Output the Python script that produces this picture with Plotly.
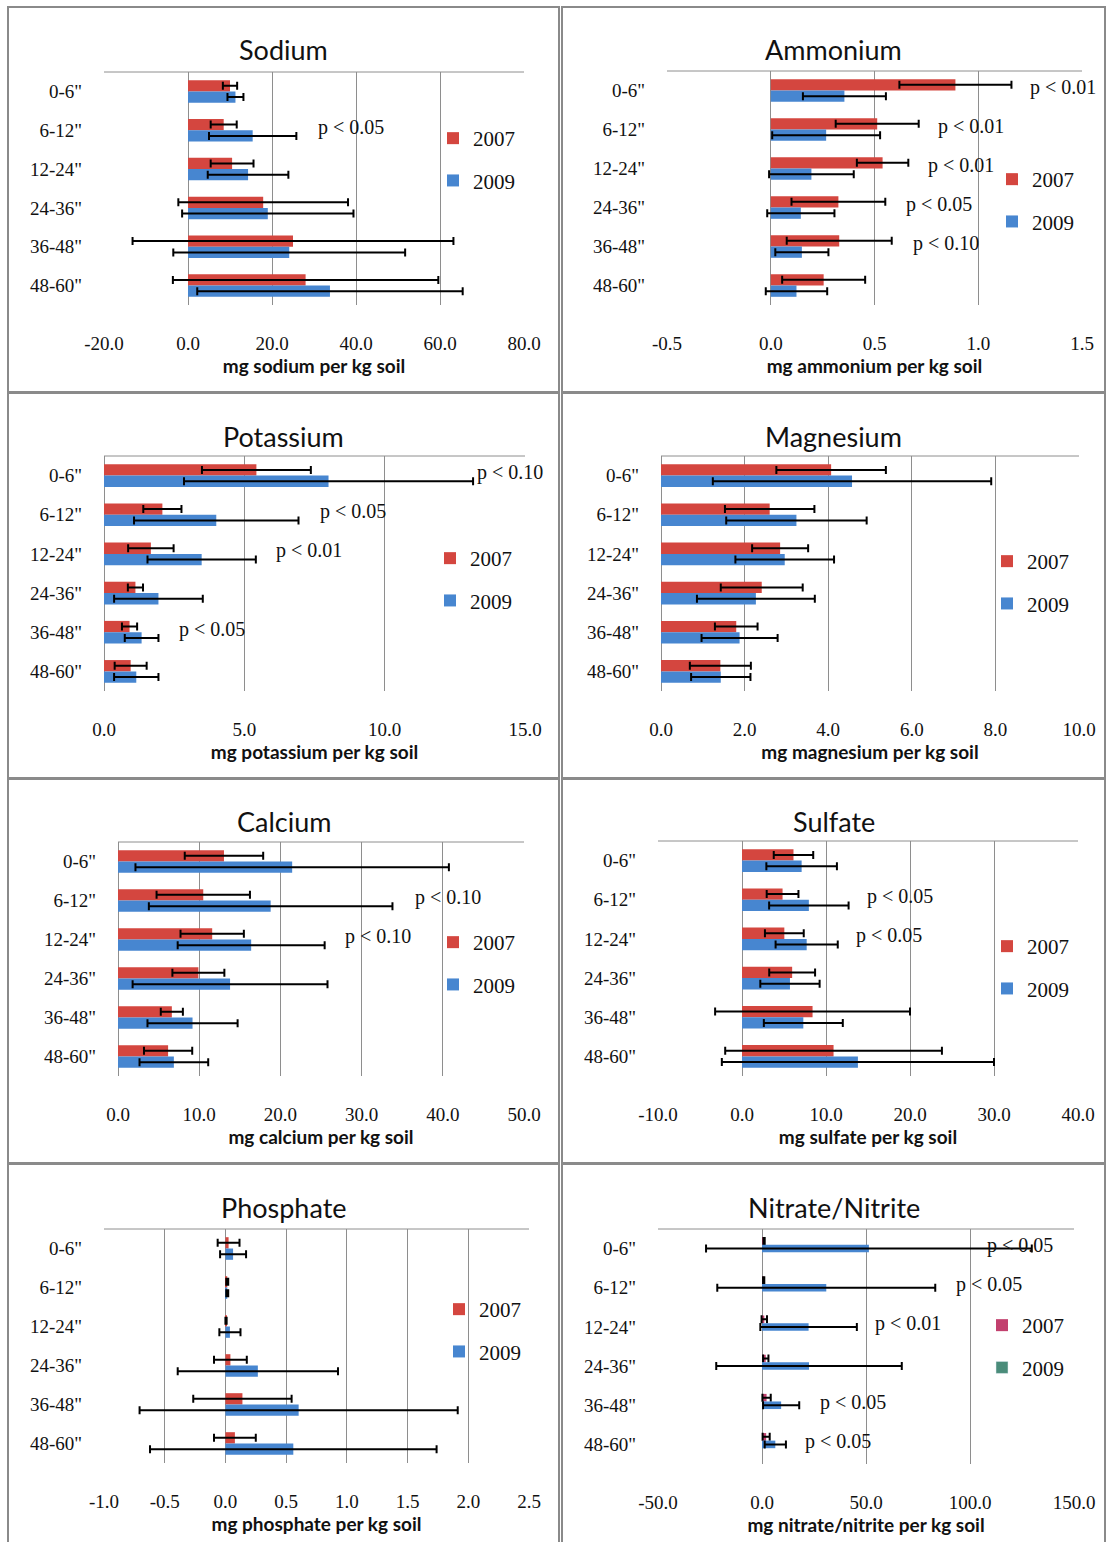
import plotly.graph_objects as go

# ---------------------------------------------------------------- data
depths = ['0-6"', '6-12"', '12-24"', '24-36"', '36-48"', '48-60"']

sodium_2007 = [10.0, 8.5, 10.5, 17.9, 25.0, 28.0]
sodium_2007_err = [1.7, 3.1, 5.1, 20.2, 38.2, 31.6]
sodium_2009 = [11.3, 15.4, 14.3, 19.0, 24.1, 33.8]
sodium_2009_err = [1.9, 10.4, 9.6, 20.4, 27.6, 31.6]
sodium_p = [('6-12"', 'p < 0.05')]

ammonium_2007 = [0.89, 0.513, 0.539, 0.326, 0.33, 0.255]
ammonium_2007_err = [0.27, 0.20, 0.124, 0.226, 0.253, 0.20]
ammonium_2009 = [0.355, 0.267, 0.196, 0.145, 0.15, 0.124]
ammonium_2009_err = [0.20, 0.26, 0.204, 0.162, 0.128, 0.148]
ammonium_p = [('0-6"', 'p < 0.01'), ('6-12"', 'p < 0.01'), ('12-24"', 'p < 0.01'),
              ('24-36"', 'p < 0.05'), ('36-48"', 'p < 0.10')]

potassium_2007 = [5.43, 2.08, 1.67, 1.12, 0.91, 0.95]
potassium_2007_err = [1.94, 0.68, 0.81, 0.27, 0.27, 0.57]
potassium_2009 = [8.0, 4.0, 3.48, 1.94, 1.34, 1.15]
potassium_2009_err = [5.15, 2.93, 1.93, 1.58, 0.60, 0.79]
potassium_p = [('0-6"', 'p < 0.10'), ('6-12"', 'p < 0.05'), ('12-24"', 'p < 0.01'),
               ('36-48"', 'p < 0.05')]

magnesium_2007 = [4.07, 2.60, 2.85, 2.41, 1.80, 1.42]
magnesium_2007_err = [1.31, 1.07, 0.67, 0.98, 0.51, 0.73]
magnesium_2009 = [4.57, 3.24, 2.96, 2.27, 1.88, 1.43]
magnesium_2009_err = [3.33, 1.68, 1.18, 1.41, 0.91, 0.71]
magnesium_p = []

calcium_2007 = [13.05, 10.5, 11.6, 9.9, 6.63, 6.17]
calcium_2007_err = [4.83, 5.75, 3.9, 3.2, 1.36, 2.97]
calcium_2009 = [21.45, 18.8, 16.4, 13.8, 9.18, 6.88]
calcium_2009_err = [19.3, 15.0, 9.05, 12.0, 5.55, 4.23]
calcium_p = [('6-12"', 'p < 0.10'), ('12-24"', 'p < 0.10')]

sulfate_2007 = [6.13, 4.83, 5.04, 5.97, 8.4, 10.9]
sulfate_2007_err = [2.35, 1.89, 2.31, 2.73, 11.6, 12.9]
sulfate_2009 = [7.1, 7.96, 7.7, 5.71, 7.3, 13.8]
sulfate_2009_err = [4.2, 4.73, 3.7, 3.53, 4.7, 16.2]
sulfate_p = [('6-12"', 'p < 0.05'), ('12-24"', 'p < 0.05')]

phosphate_2007 = [0.026, 0.015, 0.005, 0.041, 0.14, 0.078]
phosphate_2007_err = [0.09, 0.008, 0.005, 0.135, 0.405, 0.172]
phosphate_2009 = [0.063, 0.015, 0.037, 0.267, 0.603, 0.559]
phosphate_2009_err = [0.107, 0.008, 0.087, 0.66, 1.31, 1.18]
phosphate_p = []

nitrate_2007 = [1.0, 0.8, 1.1, 1.8, 2.2, 2.0]
nitrate_2007_err = [0.3, 0.3, 1.3, 1.3, 2.0, 1.7]
nitrate_2009 = [51.4, 30.9, 22.4, 22.6, 9.2, 6.4]
nitrate_2009_err = [78.3, 52.4, 23.2, 44.6, 8.7, 5.1]
nitrate_p = [('0-6"', 'p < 0.05'), ('6-12"', 'p < 0.05'), ('12-24"', 'p < 0.01'),
             ('36-48"', 'p < 0.05'), ('48-60"', 'p < 0.05')]

# ---------------------------------------------------------------- styling
W, H = 1107, 1542
RED = '#D4463F'
BLUE = '#4786D0'
PINK = '#C2406E'
TEAL = '#4A8C7A'
GRID = '#8E8E8E'
FRAME = '#8A8A8A'
INK = '#111111'
SERIF = 'Liberation Serif'
SANS = 'Lato'


def fx(px):
    return px / W


def fy(py):
    return 1 - py / H


panels = [
    dict(title='Sodium', unit='sodium', v07=sodium_2007, e07=sodium_2007_err,
         v09=sodium_2009, e09=sodium_2009_err, p=sodium_p,
         rng=[-20, 80], dtick=20, box=(104, 524, 72, 305),
         legend=(433, 138), p_x=[38.8]),
    dict(title='Ammonium', unit='ammonium', v07=ammonium_2007, e07=ammonium_2007_err,
         v09=ammonium_2009, e09=ammonium_2009_err, p=ammonium_p,
         rng=[-0.5, 1.5], dtick=0.5, box=(667, 1082, 71, 305),
         legend=(992, 179), p_x=[1.41, 0.965, 0.917, 0.811, 0.845]),
    dict(title='Potassium', unit='potassium', v07=potassium_2007, e07=potassium_2007_err,
         v09=potassium_2009, e09=potassium_2009_err, p=potassium_p,
         rng=[0, 15], dtick=5, box=(104, 525, 456, 691),
         legend=(430, 558), p_x=[14.47, 8.88, 7.31, 3.86]),
    dict(title='Magnesium', unit='magnesium', v07=magnesium_2007, e07=magnesium_2007_err,
         v09=magnesium_2009, e09=magnesium_2009_err, p=magnesium_p,
         rng=[0, 10], dtick=2, box=(661, 1079, 456, 691),
         legend=(987, 561), p_x=[]),
    dict(title='Calcium', unit='calcium', v07=calcium_2007, e07=calcium_2007_err,
         v09=calcium_2009, e09=calcium_2009_err, p=calcium_p,
         rng=[0, 50], dtick=10, box=(118, 524, 842, 1076),
         legend=(433, 942), p_x=[40.6, 32.0]),
    dict(title='Sulfate', unit='sulfate', v07=sulfate_2007, e07=sulfate_2007_err,
         v09=sulfate_2009, e09=sulfate_2009_err, p=sulfate_p,
         rng=[-10, 40], dtick=10, box=(658, 1078, 841, 1076),
         legend=(987, 946), p_x=[18.75, 17.55]),
    dict(title='Phosphate', unit='phosphate', v07=phosphate_2007, e07=phosphate_2007_err,
         v09=phosphate_2009, e09=phosphate_2009_err, p=phosphate_p,
         rng=[-1.0, 2.5], dtick=0.5, box=(104, 529, 1229, 1463),
         legend=(439, 1309), p_x=[]),
    dict(title='Nitrate/Nitrite', unit='nitrate/nitrite', v07=nitrate_2007, e07=nitrate_2007_err,
         v09=nitrate_2009, e09=nitrate_2009_err, p=nitrate_p,
         rng=[-50, 150], dtick=50, box=(658, 1074, 1229, 1464),
         legend=(982, 1325), p_x=[124, 109, 70.2, 43.75, 36.5],
         legend_colors=(PINK, TEAL)),
]

panel_cols = [(8, 559), (562, 1105)]
panel_rows = [(7, 392), (393, 778), (779, 1163), (1164, 1560)]
title_y = [50, 436, 821, 1207]


def tick_values(lo, hi, step):
    n = int(round((hi - lo) / step))
    return [lo + k * step for k in range(n + 1)]


fig = go.Figure()
shapes = []
annotations = []

for i, p in enumerate(panels):
    ax = '' if i == 0 else str(i + 1)
    xa, ya, lg = 'x' + ax, 'y' + ax, 'legend' + ax
    col, row = i % 2, i // 2
    l, r, t, b = p['box']
    err_style = dict(type='data', color='black', thickness=2, width=4)
    leg_cols = p.get('legend_colors')

    fig.add_trace(go.Bar(
        y=depths, x=p['v07'], orientation='h', name='2007',
        marker=dict(color=leg_cols[0] if leg_cols else RED, line=dict(width=0)),
        error_x=dict(array=p['e07'], **err_style),
        xaxis=xa, yaxis=ya, legend=lg, legendgroup=f'g{i}a'))
    fig.add_trace(go.Bar(
        y=depths, x=p['v09'], orientation='h', name='2009',
        marker=dict(color=BLUE, line=dict(width=0)),
        error_x=dict(array=p['e09'], **err_style),
        xaxis=xa, yaxis=ya, legend=lg, legendgroup=f'g{i}b',
        showlegend=not leg_cols))
    if leg_cols:
        # legend swatch for the 2009 series in its own colour
        fig.add_trace(go.Bar(
            y=[None], x=[None], orientation='h', name='2009',
            marker=dict(color=leg_cols[1]), xaxis=xa, yaxis=ya,
            legend=lg, legendgroup=f'g{i}b', hoverinfo='skip'))

    tv = tick_values(p['rng'][0], p['rng'][1], p['dtick'])
    fig.layout[('xaxis' + ax)] = dict(
        domain=[fx(l), fx(r)], anchor=ya, range=p['rng'],
        tickmode='array', tickvals=tv, ticktext=[f'{v:.1f}' for v in tv],
        showgrid=True, gridcolor=GRID, gridwidth=1,
        zeroline=True, zerolinecolor=GRID, zerolinewidth=1,
        showline=False, ticks='', ticklabelstandoff=25, automargin=False,
        tickfont=dict(family=SERIF, size=19, color=INK),
        title=dict(text=f"mg {p['unit']} per kg soil", standoff=5,
                   font=dict(family=SANS, size=19, color=INK, weight='bold')),
        fixedrange=True)
    fig.layout[('yaxis' + ax)] = dict(
        domain=[fy(b), fy(t)], anchor=xa, type='category',
        categoryorder='array', categoryarray=depths, autorange='reversed',
        showgrid=False, zeroline=False, showline=False, ticks='',
        ticklabelstandoff=21, automargin=False,
        tickfont=dict(family=SERIF, size=19, color=INK),
        fixedrange=True)

    # category axis drawn through zero, with boundary ticks
    zero_px = l + (0 - p['rng'][0]) / (p['rng'][1] - p['rng'][0]) * (r - l)
    fig.layout[('yaxis' + str(i + 11))] = dict(
        overlaying=ya, anchor='free', position=fx(zero_px), side='left',
        domain=[fy(b), fy(t)], range=[len(depths), 0], tickmode='linear',
        tick0=0, dtick=1, ticks='outside', ticklen=4, tickcolor=GRID,
        showticklabels=False, showline=True, linecolor=GRID, linewidth=1,
        showgrid=False, zeroline=False, automargin=False, fixedrange=True)

    lx, ly = p['legend']
    fig.layout[lg] = dict(
        x=fx(lx), y=fy(ly - 20), xanchor='left', yanchor='top',
        font=dict(family=SERIF, size=21, color=INK),
        bgcolor='rgba(0,0,0,0)', borderwidth=0, tracegroupgap=12,
        itemwidth=30, traceorder='grouped')

    # top edge of the plot area
    shapes.append(dict(type='line', xref=f'{xa} domain', yref=f'{ya} domain',
                       x0=0, x1=1, y0=1, y1=1, line=dict(color=GRID, width=1)))

    # chart title
    cl, cr = panel_cols[col]
    annotations.append(dict(
        text=p['title'], x=fx((cl + cr) / 2), y=fy(title_y[row]),
        xref='paper', yref='paper', xanchor='center', yanchor='middle',
        showarrow=False, font=dict(family=SANS, size=27, color=INK)))

    # significance labels
    for (depth, txt), px_val in zip(p['p'], p['p_x']):
        annotations.append(dict(
            text=txt, x=px_val, y=depth, xref=xa, yref=ya,
            xanchor='center', yanchor='middle', yshift=3, showarrow=False,
            font=dict(family=SERIF, size=20, color=INK)))

# panel frames
for (r0, r1) in panel_rows:
    for (c0, c1) in panel_cols:
        shapes.append(dict(type='rect', xref='paper', yref='paper',
                           x0=fx(c0), x1=fx(c1), y0=fy(r1), y1=fy(r0),
                           line=dict(color=FRAME, width=2), layer='below'))

fig.update_layout(
    width=W, height=H, margin=dict(l=0, r=0, t=0, b=0, autoexpand=False),
    paper_bgcolor='white', plot_bgcolor='white',
    barmode='group', bargap=0.42, bargroupgap=0,
    shapes=shapes, annotations=annotations,
)

fig.write_html('out.html')
